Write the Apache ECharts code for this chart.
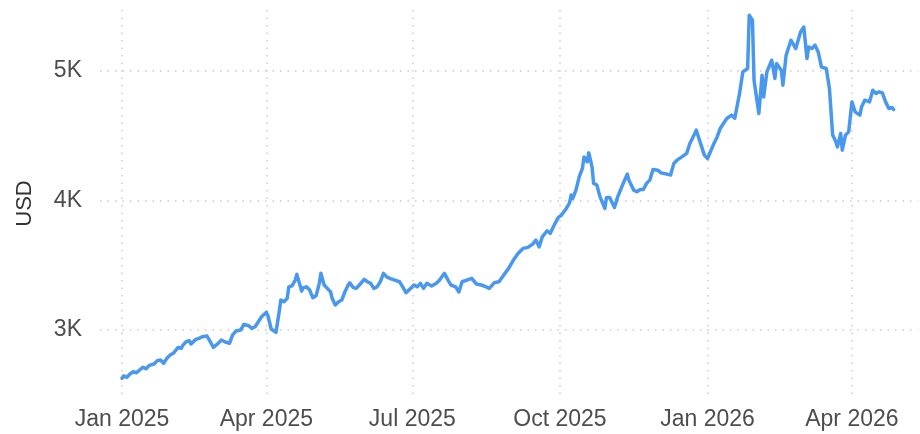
<!DOCTYPE html>
<html>
<head>
<meta charset="utf-8">
<script src="https://cdn.jsdelivr.net/npm/echarts@6/dist/echarts.min.js"></script>
<style>
html,body{margin:0;padding:0;background:#fff;}
#chart{width:920px;height:434px;}
</style>
</head>
<body>
<div id="chart"></div>
<script>
// Days since 2025-01-01 for each observation
const dayOffsets = [0,1,3,5,7,9,11,13,15,17,20,22,24,26,28,30,32,34,35,37,38,40,42,43,46,48,50,53,55,57,60,62,64,67,69,71,74,76,79,81,83,85,87,90,91,93,96,98,99,101,103,104,106,108,109,110,112,113,115,117,119,121,123,124,126,128,130,131,133,135,137,139,141,142,144,146,148,151,153,155,157,159,161,163,165,167,170,173,175,177,180,182,184,186,188,190,193,196,198,201,203,205,208,210,212,215,218,221,224,227,229,232,235,238,241,244,247,250,253,256,258,260,262,265,267,270,272,274,277,279,280,281,283,285,287,288,290,291,293,294,296,298,301,302,304,307,309,312,315,316,319,321,323,325,327,329,331,334,336,340,342,344,346,349,352,354,356,358,361,363,365,369,371,373,377,380,382,385,387,390,391,393,394,397,399,400,402,405,407,408,411,412,414,417,420,423,425,427,428,430,432,434,436,439,441,443,445,446,448,449,451,453,455,457,460,461,463,466,468,470,472,474,476,478,480,481];
// Price in USD
const prices = [2628,2646,2636,2661,2679,2671,2692,2713,2702,2728,2738,2764,2769,2744,2782,2807,2821,2851,2867,2859,2884,2910,2918,2892,2928,2936,2948,2954,2910,2867,2898,2923,2910,2898,2962,2992,3000,3044,3033,3013,3025,3064,3102,3136,3110,3008,2982,3141,3231,3218,3244,3333,3341,3385,3429,3385,3300,3326,3333,3308,3249,3264,3360,3437,3347,3321,3295,3244,3193,3218,3231,3295,3347,3364,3329,3321,3347,3390,3372,3360,3321,3333,3372,3437,3410,3398,3385,3372,3333,3287,3321,3347,3333,3360,3321,3360,3339,3360,3385,3437,3390,3347,3333,3293,3372,3385,3398,3354,3347,3333,3321,3364,3372,3424,3475,3539,3591,3629,3637,3662,3693,3641,3718,3765,3745,3822,3868,3886,3937,3980,4040,4014,4078,4180,4245,4334,4296,4365,4257,4130,4117,4026,3937,4022,4022,3945,4026,4117,4201,4155,4078,4065,4083,4083,4130,4155,4237,4232,4211,4201,4194,4284,4309,4334,4361,4438,4488,4540,4425,4348,4322,4438,4488,4555,4630,4656,4632,4825,4989,5015,5426,5387,4925,4669,4964,4796,4989,5079,4938,5054,5002,4887,5118,5233,5169,5297,5335,5092,5181,5169,5195,5143,5027,5015,4861,4502,4450,4411,4515,4386,4502,4527,4758,4681,4656,4719,4771,4758,4848,4823,4835,4827,4758,4707,4715,4699];
// Tick positions
const xTickDates = [[2025,0],[2025,3],[2025,6],[2025,9],[2026,0],[2026,3]];
const monthNames = ['Jan','Feb','Mar','Apr','May','Jun','Jul','Aug','Sep','Oct','Nov','Dec'];
const yTicks = [3000,4000,5000];
const yTickLabels = ['3K','4K','5K'];

const DAY = 86400000;
const base = Date.UTC(2025,0,1);
const seriesData = dayOffsets.map((d,i)=>[base + d*DAY, prices[i]]);
const xTicks = xTickDates.map(t=>Date.UTC(t[0],t[1],1));

const chart = echarts.init(document.getElementById('chart'), null, {renderer:'canvas'});
const gridLine = {show:true, lineStyle:{color:'#cccccc', width:1.5, type:[1.5,6]}};
const font = 'Liberation Sans, Arial, sans-serif';
chart.setOption({
  animation:false,
  backgroundColor:'#ffffff',
  grid:{left:100, right:2, top:10, bottom:37, containLabel:false},
  xAxis:{
    type:'value',
    min: base - 13.7*DAY,
    max: base + 496.2*DAY,
    axisLine:{show:false},
    axisTick:{show:false, customValues:xTicks},
    splitLine:gridLine,
    axisLabel:{
      customValues:xTicks,
      margin:11,
      color:'#4d4d4d',
      fontSize:23,
      fontFamily:font,
      formatter:function(v){const d=new Date(v);return monthNames[d.getUTCMonth()]+' '+d.getUTCFullYear();}
    }
  },
  yAxis:{
    type:'value',
    min:2484,
    max:5466,
    name:'USD',
    nameLocation:'middle',
    nameRotate:90,
    nameGap:64,
    nameTextStyle:{color:'#333333', fontSize:22, fontFamily:font},
    axisLine:{show:false},
    axisTick:{show:false, customValues:yTicks},
    splitLine:gridLine,
    axisLabel:{
      customValues:yTicks,
      margin:18,
      color:'#4d4d4d',
      fontSize:23,
      fontFamily:font,
      formatter:function(v){const i=yTicks.indexOf(v);return i>=0?yTickLabels[i]:'';}
    }
  },
  series:[{
    type:'line',
    data:seriesData,
    showSymbol:false,
    symbol:'none',
    lineStyle:{color:'#4a97ee', width:3.5, join:'round', cap:'round'},
    itemStyle:{color:'#4a97ee'}
  }]
});
</script>
</body>
</html>
